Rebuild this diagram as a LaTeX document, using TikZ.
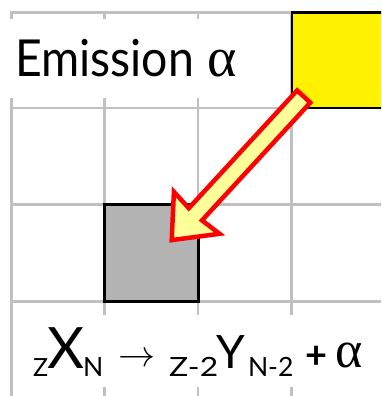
\RequirePackage{fix-cm}
\documentclass[tikz,border=0pt]{standalone}
\usepackage{fontspec}
\setmainfont{Lato}
\newfontfamily\greekfont{Liberation Serif}
\definecolor{gridgray}{HTML}{C0C0C0}
\definecolor{boxgray}{HTML}{B3B3B3}
\definecolor{arrowfill}{HTML}{FFFF99}
\newcommand{\fsz}[1]{\fontsize{#1}{#1}\selectfont}
\begin{document}
\begin{tikzpicture}[x=1pt,y=-1pt,
  gridline/.style={draw=gridgray,line width=2.5pt,line cap=rect},
  square/.style={draw=black,line width=2.5pt,inner sep=0pt,outer sep=0pt,anchor=north west},
  txt/.style={inner sep=0pt,outer sep=0pt,anchor=base west},
  blockarrow/.style={draw=red,line width=4.5pt,fill=arrowfill,line join=miter,miter limit=10}]
\useasboundingbox (0,0) rectangle (381,396);
\clip (0,0) rectangle (381,396);
% grid
\foreach \x in {11.5,104.5,198,291.5} \draw[gridline] (\x,12.5) -- (\x,396);
\foreach \y in {12.5,108,204.5,301.5} \draw[gridline] (11.5,\y) -- (381,\y);
% white bands behind the texts
\fill[white] (4,19) rectangle (290,98);
\fill[white] (14,315) rectangle (381,387);
% squares
\node[square,fill=yellow,minimum width=95pt,minimum height=95.5pt] (parent) at (292,12.5) {};
\node[square,fill=boxgray,minimum width=94pt,minimum height=97pt] (daughter) at (104.5,204.5) {};
% block arrow from parent to daughter
\coordinate (tail) at (303.7,96.5);
\coordinate (tip) at (171.7,240.1);
\draw[blockarrow] (tip) -- (219.6,233.8) -- (202.0,220.4) -- (310.3,102.6)
  -- (297.1,90.45) -- (188.8,208.2) -- (173.9,191.8) -- cycle;
% title
\node[txt,font=\fsz{51}] (title) at (15,76) {\scalebox{0.91}[1]{Emission} {\greekfont\fsz{56}α}};
% equation
\node[txt,font=\fsz{25}] (zsub) at (33,376) {Z};
\node[txt,font=\fsz{57}] (xsym) at (47,368) {X};
\node[txt,font=\fsz{26.5}] (nsub) at (83,376) {N};
\node[txt,font=\fsz{37}] (reacarrow) at (118,366) {$\rightarrow$};
\node[txt,font=\fsz{26.5}] (zsubb) at (169,376) {\scalebox{1.2}[1]{Z-2}};
\node[txt,font=\fsz{46}] (ysym) at (216,368) {Y};
\node[txt,font=\fsz{26.5}] (nsubb) at (248,376) {N-2};
\node[txt,font=\fsz{38}\bfseries] (plus) at (305,368) {+};
\node[txt,font=\greekfont\fsz{52}] (alpha) at (335,367) {α};
\end{tikzpicture}
\end{document}
